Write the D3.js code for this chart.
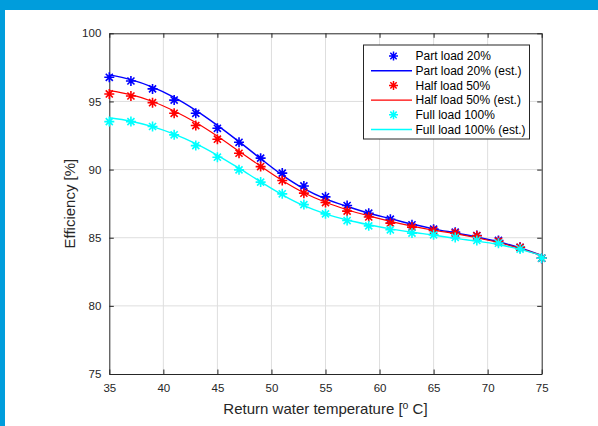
<!DOCTYPE html>
<html>
<head>
<meta charset="utf-8">
<script src="https://cdn.jsdelivr.net/npm/d3@7/dist/d3.min.js"></script>
<style>
  html, body { margin: 0; padding: 0; background: #fff; }
  svg { display: block; font-family: "Liberation Sans", Arial, sans-serif; }
</style>
</head>
<body>
<svg id="vis" width="598" height="426"></svg>
<script>
// measured points (every 2 degrees)
var temps = [35, 37, 39, 41, 43, 45, 47, 49, 51, 53, 55, 57, 59, 61, 63, 65, 67, 69, 71, 73, 75];
var part20 = [96.77, 96.5, 95.92, 95.1, 94.13, 93.03, 92.0, 90.84, 89.74, 88.8, 88.0, 87.36, 86.8, 86.36, 85.95, 85.63, 85.41, 85.16, 84.8, 84.3, 83.5];
var half50 = [95.55, 95.4, 94.91, 94.13, 93.23, 92.23, 91.2, 90.22, 89.2, 88.27, 87.58, 86.95, 86.52, 86.07, 85.78, 85.53, 85.34, 85.14, 84.73, 84.29, 83.5];
var full100 = [93.52, 93.52, 93.16, 92.55, 91.76, 90.91, 89.98, 89.08, 88.22, 87.43, 86.75, 86.26, 85.87, 85.58, 85.34, 85.21, 85.02, 84.8, 84.6, 84.17, 83.5];

// estimated curves
var part20Est = [96.95, 96.6, 96.05, 95.3, 94.35, 93.25, 92.05, 90.8, 89.6, 88.6, 87.85, 87.3, 86.8, 86.4, 86.0, 85.65, 85.35, 85.05, 84.7, 84.25, 83.7];
var half50Est = [95.8, 95.5, 95.0, 94.3, 93.45, 92.45, 91.35, 90.25, 89.2, 88.3, 87.6, 87.05, 86.6, 86.2, 85.85, 85.55, 85.3, 85.0, 84.65, 84.2, 83.7];
var full100Est = [93.8, 93.55, 93.15, 92.6, 91.9, 91.05, 90.1, 89.1, 88.15, 87.35, 86.75, 86.3, 85.95, 85.65, 85.4, 85.2, 84.95, 84.75, 84.5, 84.15, 83.7];

var xTicks = [35, 40, 45, 50, 55, 60, 65, 70, 75];
var yTicks = [75, 80, 85, 90, 95, 100];

var seriesNames = ["Part load 20%", "Half load 50%", "Full load 100%"];
var seriesColors = ["#0000ff", "#ff0000", "#00ffff"];
var lineWidths = [1.5, 1.2, 1.4];
var seriesData = [part20, half50, full100];
var seriesEst = [part20Est, half50Est, full100Est];

var plot = { left: 109.3, right: 541.7, top: 33.3, bottom: 374 };
var axisColor = "#262626";

var svg = d3.select("#vis");

// blue frame of the page
svg.append("rect").attr("x", 0).attr("y", 0).attr("width", 598).attr("height", 10).attr("fill", "#009ddc");
svg.append("rect").attr("x", 0).attr("y", 0).attr("width", 5).attr("height", 426).attr("fill", "#009ddc");

var x = d3.scaleLinear().domain([35, 75]).range([plot.left, plot.right]);
var y = d3.scaleLinear().domain([75, 100]).range([plot.bottom, plot.top]);

// grid
var grid = svg.append("g");
grid.selectAll(".gx").data(xTicks.slice(1, -1)).enter().append("line")
    .attr("x1", d => x(d)).attr("x2", d => x(d))
    .attr("y1", plot.top).attr("y2", plot.bottom)
    .attr("stroke", "#dedede").attr("stroke-width", 1);
grid.selectAll(".gy").data(yTicks.slice(1, -1)).enter().append("line")
    .attr("x1", plot.left).attr("x2", plot.right)
    .attr("y1", d => y(d)).attr("y2", d => y(d))
    .attr("stroke", "#dedede").attr("stroke-width", 1);

// axes (ticks inside, box on)
var xAxis = d3.axisBottom(x).tickValues(xTicks).tickSizeInner(-4.5).tickSizeOuter(0).tickPadding(10);
var yAxis = d3.axisLeft(y).tickValues(yTicks).tickSizeInner(-4.5).tickSizeOuter(0).tickPadding(8);
var xAxisTop = d3.axisTop(x).tickValues(xTicks).tickSizeInner(-4.5).tickSizeOuter(0).tickFormat("");
var yAxisRight = d3.axisRight(y).tickValues(yTicks).tickSizeInner(-4.5).tickSizeOuter(0).tickFormat("");

function styleAxis(g) {
    g.selectAll("path").attr("stroke", axisColor).attr("stroke-width", 1);
    g.selectAll("line").attr("stroke", axisColor);
    g.selectAll("text").attr("fill", axisColor).style("font-size", "11.5px");
}

svg.append("g").attr("transform", "translate(0," + plot.bottom + ")").call(xAxis).call(styleAxis);
svg.append("g").attr("transform", "translate(" + plot.left + ",0)").call(yAxis).call(styleAxis);
svg.append("g").attr("transform", "translate(0," + plot.top + ")").call(xAxisTop).call(styleAxis);
svg.append("g").attr("transform", "translate(" + plot.right + ",0)").call(yAxisRight).call(styleAxis);

// asterisk marker path
function asterisk(r) {
    var d = r * 0.7071;
    return "M" + (-r) + ",0L" + r + ",0M0," + (-r) + "L0," + r +
        "M" + (-d) + "," + (-d) + "L" + d + "," + d +
        "M" + (-d) + "," + d + "L" + d + "," + (-d);
}

var line = d3.line()
    .x(d => x(d[0]))
    .y(d => y(d[1]))
    .curve(d3.curveCatmullRom);

var plotG = svg.append("g");
seriesNames.forEach(function(name, i) {
    var est = temps.map((t, j) => [t, seriesEst[i][j]]);
    var pts = temps.map((t, j) => [t, seriesData[i][j]]);
    var g = plotG.append("g");
    g.selectAll("path.m").data(pts).enter().append("path")
        .attr("class", "m")
        .attr("transform", d => "translate(" + x(d[0]) + "," + y(d[1]) + ")")
        .attr("d", asterisk(5))
        .attr("stroke", seriesColors[i])
        .attr("stroke-width", 1.6)
        .attr("fill", "none");
    g.append("path")
        .datum(est)
        .attr("d", line)
        .attr("fill", "none")
        .attr("stroke", seriesColors[i])
        .attr("stroke-width", lineWidths[i]);
});

// legend
var legend = svg.append("g").attr("transform", "translate(363.5,45)");
legend.append("rect")
    .attr("width", 166).attr("height", 94)
    .attr("fill", "#fff").attr("stroke", axisColor).attr("stroke-width", 1);
var rowH = 14.7;
seriesNames.forEach(function(name, i) {
    var y1 = 11 + (2 * i) * rowH;
    var y2 = y1 + rowH;
    legend.append("path")
        .attr("transform", "translate(30," + y1 + ")")
        .attr("d", asterisk(4.5))
        .attr("stroke", seriesColors[i]).attr("stroke-width", 1.5).attr("fill", "none");
    legend.append("text")
        .attr("x", 52).attr("y", y1).attr("dy", "0.35em")
        .style("font-size", "12px").attr("fill", "#000")
        .text(name);
    legend.append("line")
        .attr("x1", 7.5).attr("x2", 48.5).attr("y1", y2).attr("y2", y2)
        .attr("stroke", seriesColors[i]).attr("stroke-width", lineWidths[i]);
    legend.append("text")
        .attr("x", 52).attr("y", y2).attr("dy", "0.35em")
        .style("font-size", "12px").attr("fill", "#000")
        .text(name + " (est.)");
});

// axis labels
var xl = svg.append("text")
    .attr("x", (plot.left + plot.right) / 2).attr("y", 414)
    .attr("text-anchor", "middle")
    .style("font-size", "15px").attr("fill", axisColor);
xl.append("tspan").text("Return water temperature [");
xl.append("tspan").attr("dy", "-5").style("font-size", "10.5px").text("o");
xl.append("tspan").attr("dy", "5").text(" C]");

svg.append("text")
    .attr("transform", "translate(75," + ((plot.top + plot.bottom) / 2) + ") rotate(-90)")
    .attr("text-anchor", "middle")
    .style("font-size", "15px").attr("fill", axisColor)
    .text("Efficiency [%]");
</script>
</body>
</html>
